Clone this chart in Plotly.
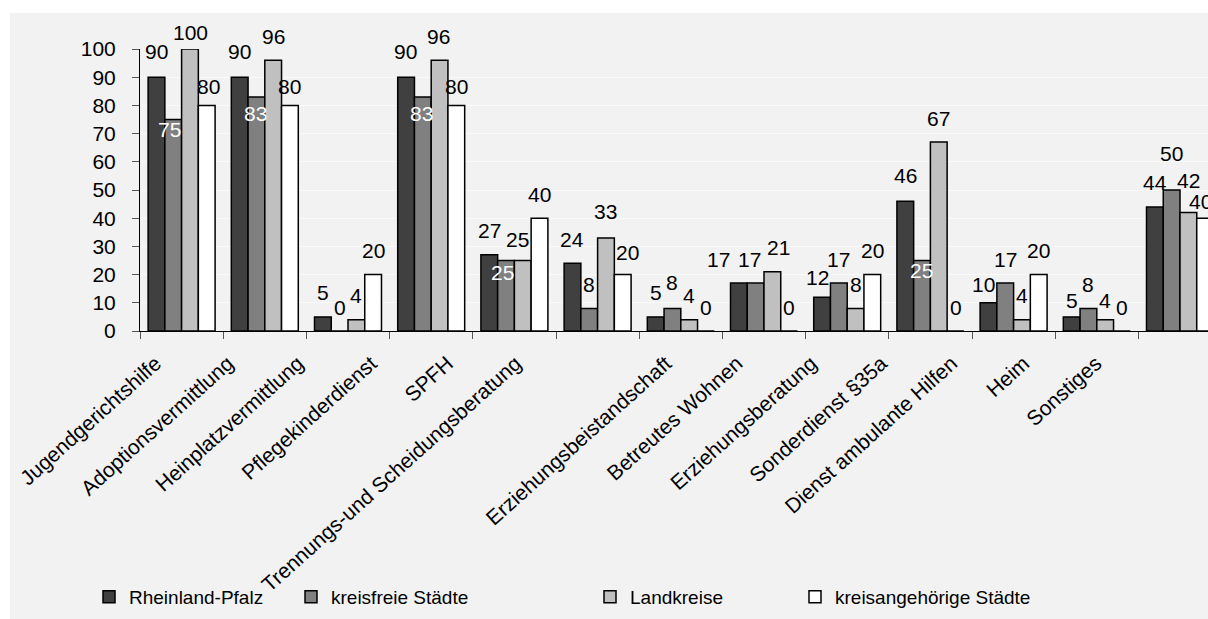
import plotly.graph_objects as go

# ---- data ----------------------------------------------------------------
categories = [
    "Jugendgerichtshilfe", "Adoptionsvermittlung", "Heinplatzvermittlung",
    "Pflegekinderdienst", "SPFH", "Trennungs-und Scheidungsberatung",
    "Erziehungsbeistandschaft", "Betreutes Wohnen", "Erziehungsberatung",
    "Sonderdienst §35a", "Dienst ambulante Hilfen", "Heim", "Sonstiges",
]
series_names = ["Rheinland-Pfalz", "kreisfreie Städte", "Landkreise",
                "kreisangehörige Städte"]
rheinland_pfalz = [90, 90, 5, 90, 27, 24, 5, 17, 12, 46, 10, 5, 44]
kreisfreie_staedte = [75, 83, 0, 83, 25, 8, 8, 17, 17, 25, 17, 8, 50]
landkreise = [100, 96, 4, 96, 25, 33, 4, 21, 8, 67, 4, 4, 42]
kreisangehoerige_staedte = [80, 80, 20, 80, 40, 20, 0, 0, 20, 0, 20, 0, 40]
y_ticks = list(range(0, 101, 10))

# ---- styling ---------------------------------------------------------------
FONT = "Liberation Sans, Arial, sans-serif"
BG = "#f2f2f2"
bar_colors = ["#404040", "#808080", "#c0c0c0", "#ffffff"]

W, H = 1208, 619
M_L, M_R, M_T, M_B = 140, 0, 49, 288
PLOT_W = W - M_L - M_R
CAT_PX = 83.2                      # width of one category slot in pixels
BARGAP = 0.195
BAR_W = (1 - BARGAP) / 4           # bar width in category units

# label placement tweaks: (dx px, dy px above bar top, colour)
label_nudge = {
    (0, 0): (0, 26), (0, 1): (-4, -10, "white"), (0, 2): (1, 17), (0, 3): (2, 19),
    (1, 0): (0, 26), (1, 1): (-1, -17, "white"), (1, 2): (0, 24), (1, 3): (0, 19),
    (3, 0): (-1, 26), (3, 1): (-1, -17, "white"), (3, 2): (-1, 24), (3, 3): (0, 19),
    (4, 1): (-4, -12, "white"), (4, 2): (-5, 21),
    (5, 2): (0, 26), (5, 3): (5, 22),
    (6, 1): (0, 26),
    (7, 0): (-20, 24), (7, 1): (-6, 24), (7, 2): (6, 24),
    (8, 0): (-5, 20),
    (9, 0): (0, 26), (9, 1): (-1, -10, "white"),
    (10, 0): (-5, 18),
    (11, 0): (0, 16), (11, 2): (0, 19),
    (12, 1): (0, 37), (12, 2): (0, 32), (12, 3): (-5, 17),
}
# rotated category labels: anchor offset (px to the left of slot centre)
tick_label_shift = [26, 37, 50, 60, 67, 82, 15, 27, 36, 49, 62, 73, 84]

all_series = [rheinland_pfalz, kreisfreie_staedte, landkreise,
              kreisangehoerige_staedte]
x_idx = list(range(len(categories)))

fig = go.Figure()
legend_ids = ["legend", "legend2", "legend3", "legend4"]
for j, (name, vals) in enumerate(zip(series_names, all_series)):
    fig.add_trace(go.Bar(
        x=x_idx, y=vals, name=name,
        marker=dict(color=bar_colors[j], line=dict(color="#000000", width=1.5)),
        legend=legend_ids[j],
        hovertext=categories,
    ))

# value labels
for j, vals in enumerate(all_series):
    for i, v in enumerate(vals):
        nudge = label_nudge.get((i, j), (0, 24))
        dx, dy = nudge[0], nudge[1]
        col = nudge[2] if len(nudge) > 2 else "#000000"
        fig.add_annotation(
            x=i + (j - 1.5) * BAR_W, y=v, xref="x", yref="y",
            text=str(v), showarrow=False, xanchor="center", yanchor="middle",
            xshift=dx, yshift=dy,
            font=dict(family=FONT, size=21, color=col),
        )

# white strips around the grey chart area
px_to_xpaper = lambda px: (px - M_L) / PLOT_W
px_to_ypaper = lambda py: (H - M_B - py) / (H - M_T - M_B)
fig.add_shape(type="rect", xref="paper", yref="paper",
              x0=px_to_xpaper(0), x1=px_to_xpaper(W), y0=px_to_ypaper(13),
              y1=px_to_ypaper(0), fillcolor="white", line_width=0, layer="below")
fig.add_shape(type="rect", xref="paper", yref="paper",
              x0=px_to_xpaper(0), x1=px_to_xpaper(10), y0=px_to_ypaper(H),
              y1=px_to_ypaper(0), fillcolor="white", line_width=0, layer="below")

# legends, one per series
legend_px = [89, 291, 590, 795]
legend_cfg = {}
for k, lid in enumerate(legend_ids):
    legend_cfg[lid] = dict(
        x=px_to_xpaper(legend_px[k]), y=px_to_ypaper(597),
        xanchor="left", yanchor="middle", orientation="h",
        bgcolor="rgba(0,0,0,0)", borderwidth=0,
        font=dict(family=FONT, size=19, color="#000000"),
    )

fig.update_layout(
    width=W, height=H,
    margin=dict(l=M_L, r=M_R, t=M_T, b=M_B, pad=0),
    paper_bgcolor=BG, plot_bgcolor=BG,
    barmode="group", bargap=BARGAP, bargroupgap=0,
    showlegend=True,
    font=dict(family=FONT, size=21, color="#000000"),
    **legend_cfg,
)
fig.update_xaxes(
    range=[-0.5, -0.5 + PLOT_W / CAT_PX],
    tickmode="array",
    tickvals=[i - s / CAT_PX for i, s in zip(x_idx, tick_label_shift)],
    ticktext=categories,
    tickangle=-42, ticks="", ticklabelstandoff=11,
    tickfont=dict(family=FONT, size=21, color="#000000"),
    showline=True, linecolor="#000000", linewidth=1,
    showgrid=False, zeroline=False,
    minor=dict(tickvals=[k - 0.5 for k in range(len(categories) + 1)],
               ticks="outside", ticklen=7, tickcolor="#555555", showgrid=False),
)
fig.update_yaxes(
    range=[0, 100], tickmode="array", tickvals=y_ticks,
    ticks="outside", ticklen=7, tickcolor="#555555", ticklabelstandoff=12,
    tickfont=dict(family=FONT, size=21, color="#000000"),
    showline=True, linecolor="#000000", linewidth=1,
    showgrid=True, gridcolor="#fafafa", gridwidth=1, zeroline=False,
)

fig.write_html("out.html")
